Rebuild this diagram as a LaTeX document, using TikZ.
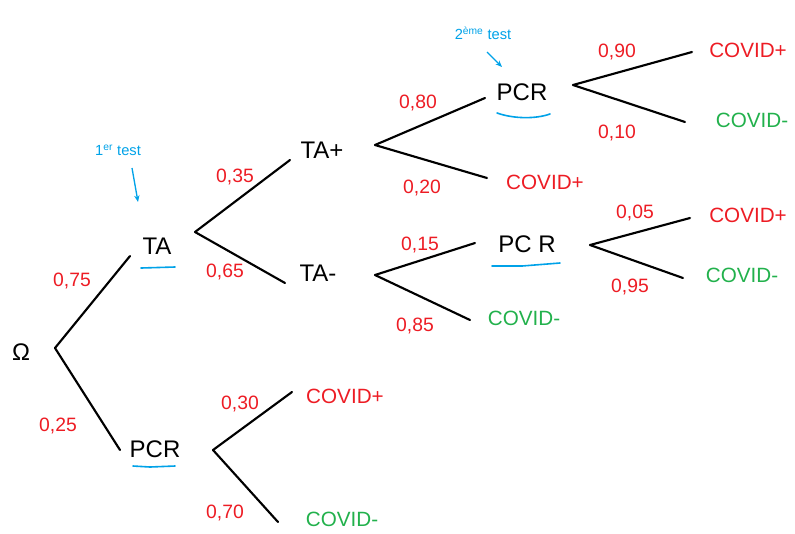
\documentclass[tikz,border=0pt]{standalone}
\usepackage{fontspec}
\setmainfont{Liberation Sans}
\usetikzlibrary{arrows.meta}
\definecolor{pred}{RGB}{237,28,36}
\definecolor{pgreen}{RGB}{34,177,76}
\definecolor{pblue}{RGB}{0,162,232}
\begin{document}
\begin{tikzpicture}[x=0.75pt,y=-0.75pt,
  branch/.style={line width=1.6pt, black, line cap=round},
  state/.style={font=\fontsize{18}{19}\selectfont, inner sep=0pt},
  prob/.style={text=pred, font=\fontsize{14.5}{15}\selectfont, inner sep=0pt},
  covpos/.style={text=pred, font=\fontsize{15.5}{16}\selectfont, inner sep=0pt},
  covneg/.style={text=pgreen, font=\fontsize{15.5}{16}\selectfont, inner sep=0pt},
  note/.style={text=pblue, font=\fontsize{11}{12}\selectfont, inner sep=0pt},
  uline/.style={pblue, line width=1.2pt, line cap=round},
  ptr/.style={pblue, line width=1pt, -{Stealth[length=5pt,width=4pt]}}]
\useasboundingbox (0,0) rectangle (795,533);

% states
\node[state] (omega) at (21,352) {Ω};
\node[state] (taA) at (157,246) {TA};
\node[state] (pcrC) at (155,449) {PCR};
\node[state] (taP) at (322,150) {TA+};
\node[state] (taM) at (318,273) {TA-};
\node[state] (pcrA) at (522,92) {PCR};
\node[state] (pcrB) at (527,244) {PC R};

% outcomes
\node[covpos] (cvA1) at (748,50) {COVID+};
\node[covneg] (cvA2) at (752,120) {COVID-};
\node[covpos] (cvB)  at (545,182) {COVID+};
\node[covpos] (cvB1) at (748,215) {COVID+};
\node[covneg] (cvB2) at (742,275) {COVID-};
\node[covneg] (cvBm) at (524,318) {COVID-};
\node[covpos] (cvC1) at (345,396) {COVID+};
\node[covneg] (cvC2) at (342,519) {COVID-};

% branches
\draw[branch] ([shift={(34,-4)}]omega.center) -- ([shift={(-27,10)}]taA.center);
\draw[branch] ([shift={(34,-4)}]omega.center) -- ([shift={(-35,1)}]pcrC.center);
\draw[branch] ([shift={(38,-14)}]taA.center) -- ([shift={(-32,10)}]taP.center);
\draw[branch] ([shift={(38,-14)}]taA.center) -- ([shift={(-33,10)}]taM.center);
\draw[branch] ([shift={(53,-5)}]taP.center) -- ([shift={(-37,6)}]pcrA.center);
\draw[branch] ([shift={(53,-5)}]taP.center) -- ([shift={(-58,-4)}]cvB.center);
\draw[branch] ([shift={(51,-7)}]pcrA.center) -- ([shift={(-56,2)}]cvA1.center);
\draw[branch] ([shift={(51,-7)}]pcrA.center) -- ([shift={(-67,2)}]cvA2.center);
\draw[branch] ([shift={(57,2)}]taM.center) -- ([shift={(-52,-1)}]pcrB.center);
\draw[branch] ([shift={(57,2)}]taM.center) -- ([shift={(-54,2)}]cvBm.center);
\draw[branch] ([shift={(63,1)}]pcrB.center) -- ([shift={(-58,3)}]cvB1.center);
\draw[branch] ([shift={(63,1)}]pcrB.center) -- ([shift={(-59,3)}]cvB2.center);
\draw[branch] ([shift={(58,1)}]pcrC.center) -- ([shift={(-53,-4)}]cvC1.center);
\draw[branch] ([shift={(58,1)}]pcrC.center) -- ([shift={(-64,3)}]cvC2.center);

% probabilities
\node[prob] (p75) at (72,281) {0,75};
\node[prob] (p25) at (58,426) {0,25};
\node[prob] (p35) at (235,177) {0,35};
\node[prob] (p65) at (225,272) {0,65};
\node[prob] (p80) at (418,103) {0,80};
\node[prob] (p20) at (422,188) {0,20};
\node[prob] (p90) at (617,52) {0,90};
\node[prob] (p10) at (617,133) {0,10};
\node[prob] (p15) at (420,245) {0,15};
\node[prob] (p85) at (415,326) {0,85};
\node[prob] (p05) at (635,213) {0,05};
\node[prob] (p95) at (630,287) {0,95};
\node[prob] (p30) at (240,404) {0,30};
\node[prob] (p70) at (225,513) {0,70};

% annotations
\node[note] (n1) at (118,150) {1\textsuperscript{er} test};
\node[note] (n2) at (483,33) {2\textsuperscript{ème} test};
\draw[ptr] ([shift={(14,18)}]n1.center) -- ([shift={(-19,-44)}]taA.center);
\draw[ptr] ([shift={(4,19)}]n2.center) -- ([shift={(-20,-25)}]pcrA.center);

% underlines
\draw[uline] ([shift={(-16,22)}]taA.center) -- ([shift={(18,21)}]taA.center);
\draw[uline] ([shift={(-25,21)}]pcrA.center) .. controls ([shift={(-8,27)}]pcrA.center) and ([shift={(14,27)}]pcrA.center) .. ([shift={(28,22)}]pcrA.center);
\draw[uline] ([shift={(-35,22)}]pcrB.center) -- ([shift={(-5,22)}]pcrB.center) -- ([shift={(33,19)}]pcrB.center);
\draw[uline] ([shift={(-22,17)}]pcrC.center) -- ([shift={(-5,18)}]pcrC.center) -- ([shift={(20,17)}]pcrC.center);
\end{tikzpicture}
\end{document}
